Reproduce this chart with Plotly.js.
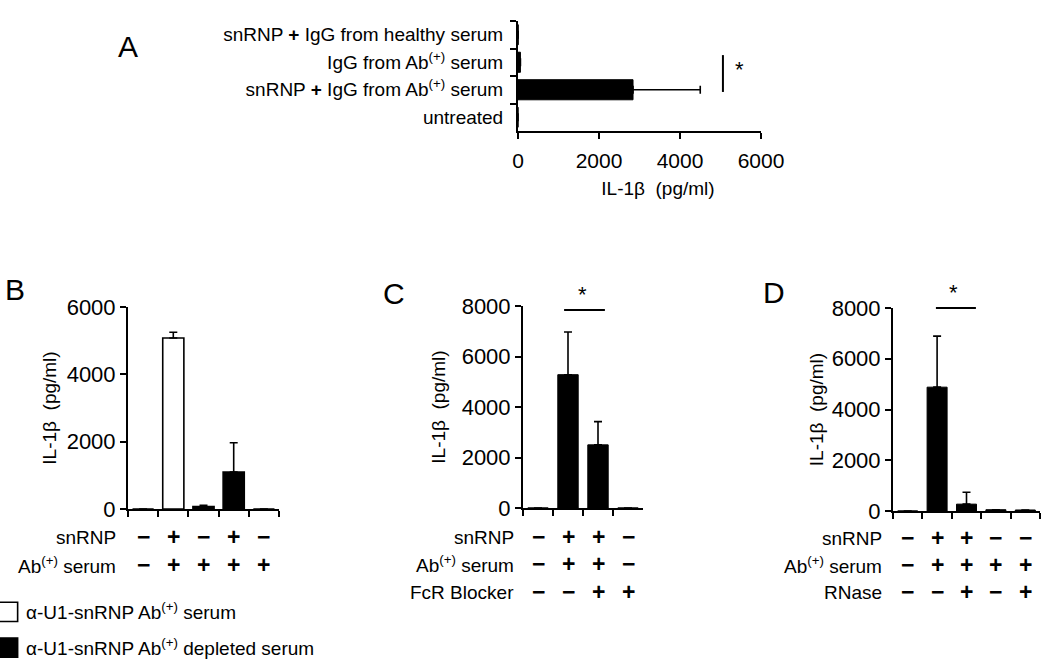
<!DOCTYPE html>
<html>
<head>
<meta charset="utf-8">
<script src="https://cdn.plot.ly/plotly-3.0.1.min.js"></script>
<style>html,body{margin:0;padding:0;background:#fff;}#chart{width:1050px;height:660px;}</style>
</head>
<body>
<div id="chart"></div>
<script>
// ---------- Panel A (horizontal bars, bottom to top) ----------
const catA = ['untreated', 'snRNP + IgG from Ab(+) serum', 'IgG from Ab(+) serum', 'snRNP + IgG from healthy serum'];
const labelsA = ['untreated', 'snRNP <b>+</b> IgG from Ab<sup>(+)</sup> serum', 'IgG from Ab<sup>(+)</sup> serum', 'snRNP <b>+</b> IgG from healthy serum'];
const valuesA = [0, 2840, 60, 5];
const errorsA = [0, 1660, 0, 0];

// ---------- Panel B ----------
const lanesB = ['B1', 'B2', 'B3', 'B4', 'B5'];
const serumB = [null, 5080, null, null, null];
const serumErrB = [0, 170, 0, 0, 0];
const depletedB = [0, null, 70, 1100, 0];
const depletedErrB = [0, 0, 40, 870, 0];
const snrnpB = ['−', '+', '−', '+', '−'];
const abB = ['−', '+', '+', '+', '+'];

// ---------- Panel C ----------
const lanesC = ['C1', 'C2', 'C3', 'C4'];
const valuesC = [0, 5280, 2500, 0];
const errorsC = [0, 1690, 920, 0];
const snrnpC = ['−', '+', '+', '−'];
const abC = ['−', '+', '+', '−'];
const fcrC = ['−', '−', '+', '+'];

// ---------- Panel D ----------
const lanesD = ['D1', 'D2', 'D3', 'D4', 'D5'];
const valuesD = [0, 4880, 270, 50, 40];
const errorsD = [0, 2010, 470, 0, 0];
const snrnpD = ['−', '+', '+', '−', '−'];
const abD = ['−', '+', '+', '+', '+'];
const rnaseD = ['−', '−', '+', '−', '+'];

const FONT = 'Liberation Sans, Arial, Helvetica, sans-serif';
const W = 1050, H = 660;
const px = v => v / W;
const py = v => 1 - v / H;

function errY(arr) {
  return {type: 'data', symmetric: false, array: arr, arrayminus: arr.map(() => 0),
          color: 'black', thickness: 1.6, width: 4, visible: true};
}

const traces = [
  {type: 'bar', orientation: 'h', y: catA, x: valuesA, xaxis: 'x', yaxis: 'y', width: 0.73,
   marker: {color: 'black', line: {color: 'black', width: 1}}, showlegend: false,
   error_x: {type: 'data', symmetric: false, array: errorsA, arrayminus: errorsA.map(() => 0),
             color: 'black', thickness: 1.6, width: 4}},
  {type: 'bar', x: lanesB, y: serumB, xaxis: 'x2', yaxis: 'y2', width: 0.7,
   name: 'α-U1-snRNP Ab<sup>(+)</sup> serum', legendgroup: 'g1',
   marker: {color: 'white', line: {color: 'black', width: 1.6}}, error_y: errY(serumErrB)},
  {type: 'bar', x: lanesB, y: depletedB, xaxis: 'x2', yaxis: 'y2', width: 0.7,
   name: 'α-U1-snRNP Ab<sup>(+)</sup> depleted serum', legendgroup: 'g2',
   marker: {color: 'black', line: {color: 'black', width: 1.6}}, error_y: errY(depletedErrB)},
  {type: 'bar', x: lanesC, y: valuesC, xaxis: 'x3', yaxis: 'y3', width: 0.68, showlegend: false,
   marker: {color: 'black', line: {color: 'black', width: 1}}, error_y: errY(errorsC)},
  {type: 'bar', x: lanesD, y: valuesD, xaxis: 'x4', yaxis: 'y4', width: 0.68, showlegend: false,
   marker: {color: 'black', line: {color: 'black', width: 1}}, error_y: errY(errorsD)}
];

const axBase = {showline: true, linecolor: 'black', linewidth: 2, ticks: 'outside', ticklen: 6,
  tickwidth: 2, tickcolor: 'black', showgrid: false, zeroline: false,
  tickfont: {family: FONT, size: 22, color: 'black'}};

function catX(domain, anchor, n, cats) {
  return Object.assign({}, axBase, {domain: domain, anchor: anchor, type: 'category',
    categoryorder: 'array', categoryarray: cats, range: [-0.5, n - 0.5],
    tickson: 'boundaries', showticklabels: false});
}
function valY(domain, anchor, max, standoff) {
  return Object.assign({}, axBase, {domain: domain, anchor: anchor, range: [0, max],
    tick0: 0, dtick: 2000, ticklabelstandoff: 0,
    title: {text: 'IL-1β  (pg/ml)', font: {family: FONT, size: 19, color: 'black'}, standoff: standoff}});
}

const annotations = [];
function txt(x, y, text, opts) {
  annotations.push(Object.assign({x: x, y: y, xref: 'paper', yref: 'paper', text: text,
    xanchor: 'center', yanchor: 'middle',
    showarrow: false, font: {family: FONT, size: 19, color: 'black'}}, opts || {}));
}
// panel letters
const LETTER = {family: FONT, size: 30, color: 'black'};
txt(px(128), py(46), 'A', {font: LETTER});
txt(px(15), py(289), 'B', {font: LETTER});
txt(px(394), py(293), 'C', {font: LETTER});
txt(px(774), py(292), 'D', {font: LETTER});

function signRow(xref, lanes, signs, yPix, label, labelRight) {
  txt(px(labelRight), py(yPix), label, {xanchor: 'right'});
  signs.forEach((s, i) => {
    annotations.push({x: lanes[i], y: py(yPix), xref: xref, yref: 'paper', text: '<b>' + s + '</b>',
      xanchor: 'center', yanchor: 'middle', showarrow: false,
      font: {family: FONT, size: 23, color: 'black'}});
  });
}
signRow('x2', lanesB, snrnpB, 537, 'snRNP', 118);
signRow('x2', lanesB, abB, 565, 'Ab<sup>(+)</sup> serum', 118);
signRow('x3', lanesC, snrnpC, 537, 'snRNP', 516);
signRow('x3', lanesC, abC, 564, 'Ab<sup>(+)</sup> serum', 516);
signRow('x3', lanesC, fcrC, 592, 'FcR Blocker', 516);
signRow('x4', lanesD, snrnpD, 538, 'snRNP', 884);
signRow('x4', lanesD, abD, 565, 'Ab<sup>(+)</sup> serum', 884);
signRow('x4', lanesD, rnaseD, 592, 'RNase', 884);

// significance asterisks
const STAR = {family: FONT, size: 22, color: 'black'};
annotations.push({x: 5480, y: 1.72, xref: 'x', yref: 'y', text: '*', showarrow: false,
  xanchor: 'center', yanchor: 'middle', font: STAR});
annotations.push({x: 1.47, y: py(294), xref: 'x3', yref: 'paper', text: '*', showarrow: false,
  xanchor: 'center', yanchor: 'middle', font: STAR});
annotations.push({x: 1.57, y: py(292), xref: 'x4', yref: 'paper', text: '*', showarrow: false,
  xanchor: 'center', yanchor: 'middle', font: STAR});

const shapes = [
  {type: 'line', xref: 'x', yref: 'y', x0: 5060, x1: 5060, y0: 0.92, y1: 2.26, line: {color: 'black', width: 2}},
  {type: 'line', xref: 'x3', yref: 'paper', x0: 0.87, x1: 2.23, y0: py(310), y1: py(310), line: {color: 'black', width: 2}},
  {type: 'line', xref: 'x4', yref: 'paper', x0: 0.96, x1: 2.32, y0: py(308), y1: py(308), line: {color: 'black', width: 2}}
];

const layout = {
  width: W, height: H, margin: {l: 0, r: 0, t: 0, b: 0, pad: 0, autoexpand: false},
  paper_bgcolor: 'white', plot_bgcolor: 'white',
  font: {family: FONT, color: 'black'},
  barmode: 'overlay',
  showlegend: true,
  legend: {x: -0.0133, y: py(593), xanchor: 'left', yanchor: 'top', traceorder: 'grouped',
    tracegroupgap: 8, font: {family: FONT, size: 19, color: 'black'}, bgcolor: 'rgba(0,0,0,0)'},
  xaxis: Object.assign({}, axBase, {domain: [px(518), px(761)], anchor: 'y', range: [0, 6000],
    tick0: 0, dtick: 2000, ticklabelstandoff: 4,
    tickfont: {family: FONT, size: 21, color: 'black'},
    title: {text: '&nbsp;&nbsp;&nbsp;&nbsp;&nbsp;&nbsp;&nbsp;IL-1β  (pg/ml)', font: {family: FONT, size: 19, color: 'black'}, standoff: 10}}),
  yaxis: Object.assign({}, axBase, {domain: [py(131), py(21)], anchor: 'x', type: 'category',
    categoryorder: 'array', categoryarray: catA, range: [-0.5, 3.5], tickson: 'boundaries',
    tickvals: catA, ticktext: labelsA, ticklabelstandoff: 9,
    tickfont: {family: FONT, size: 19, color: 'black'}}),
  xaxis2: catX([px(128), px(279)], 'y2', 5, lanesB),
  yaxis2: valY([py(509), py(307)], 'x2', 6000, 5),
  xaxis3: catX([px(523), px(643)], 'y3', 4, lanesC),
  yaxis3: valY([py(508), py(306)], 'x3', 8000, 11),
  xaxis4: catX([px(893), px(1040)], 'y4', 5, lanesD),
  yaxis4: valY([py(511), py(308)], 'x4', 8000, 3),
  annotations: annotations,
  shapes: shapes
};

Plotly.newPlot('chart', traces, layout, {displayModeBar: false, staticPlot: true}).then(() => {
  // enlarge the legend swatches to the size used in the reference
  document.querySelectorAll('.legend .legendpoints path').forEach(p => {
    const t = p.getAttribute('transform') || '';
    p.setAttribute('transform', t + ' translate(2,0) scale(1.6)');
    p.style.strokeWidth = '1px';
  });
});
</script>
</body>
</html>
